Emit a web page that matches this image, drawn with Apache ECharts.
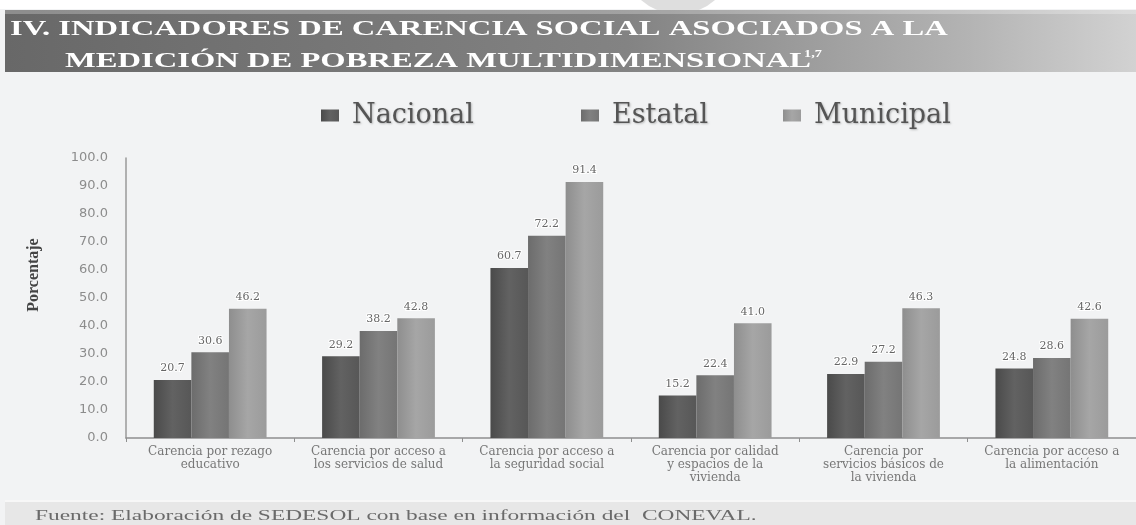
<!DOCTYPE html>
<html>
<head>
<meta charset="utf-8">
<script src="https://cdn.jsdelivr.net/npm/echarts@6/dist/echarts.min.js"></script>
<style>
html,body{margin:0;padding:0;background:#f2f3f4;}
#chart{width:1136px;height:525px;}
</style>
</head>
<body>
<div id="chart"></div>
<script>
const titleLine1 = 'IV. INDICADORES DE CARENCIA SOCIAL ASOCIADOS A LA';
const titleLine2 = 'MEDICIÓN DE POBREZA MULTIDIMENSIONAL';
const titleSup = '1,7';
const footnote = 'Fuente: Elaboración de SEDESOL con base en información del  CONEVAL.';
const yAxisName = 'Porcentaje';
const categories = [
  'Carencia por rezago\neducativo',
  'Carencia por acceso a\nlos servicios de salud',
  'Carencia por acceso a\nla seguridad social',
  'Carencia por calidad\ny espacios de la\nvivienda',
  'Carencia por\nservicios básicos de\nla vivienda',
  'Carencia por acceso a\nla alimentación'
];
const seriesNames = ['Nacional', 'Estatal', 'Municipal'];
const nacional = [20.7, 29.2, 60.7, 15.2, 22.9, 24.8];
const estatal = [30.6, 38.2, 72.2, 22.4, 27.2, 28.6];
const municipal = [46.2, 42.8, 91.4, 41.0, 46.3, 42.6];
const yTicks = {min: 0, max: 100, interval: 10};

function grad(a, b, c) {
  return new echarts.graphic.LinearGradient(0, 0, 1, 0, [
    {offset: 0, color: a}, {offset: 0.5, color: b}, {offset: 1, color: c}
  ]);
}
const fills = [
  grad('#4a4a4a', '#626262', '#575757'),
  grad('#6c6c6c', '#818181', '#757575'),
  grad('#8e8e8e', '#a6a6a6', '#9b9b9b')
];
const legendLeft = [316, 576, 778];
const values = [nacional, estatal, municipal];

const chart = echarts.init(document.getElementById('chart'), null, {renderer: 'canvas'});
const titleStyle = {
  fontFamily: 'Liberation Serif', fontWeight: 'bold', fontSize: 20,
  fill: '#ffffff', shadowColor: 'rgba(40,40,40,0.9)', shadowBlur: 3, shadowOffsetX: 1, shadowOffsetY: 1,
  verticalAlign: 'middle', x: 0, y: 0
};
const option = {
  backgroundColor: '#f2f3f4',
  animation: false,
  legend: seriesNames.map((n, i) => ({
    data: [n],
    left: legendLeft[i],
    top: 97,
    itemWidth: 18,
    itemHeight: 12,
    icon: 'rect',
    textStyle: {
      fontFamily: 'DejaVu Serif',
      fontSize: 27,
      color: '#555',
      padding: [0, 0, 0, 8],
      textShadowColor: 'rgba(0,0,0,0.25)',
      textShadowBlur: 2,
      textShadowOffsetX: 1,
      textShadowOffsetY: 1
    }
  })),
  grid: {left: 126, top: 158, width: 1017, height: 280},
  xAxis: {
    type: 'category',
    data: categories,
    axisLine: {lineStyle: {color: '#8f8f8f', width: 1.5}},
    axisTick: {show: true, length: 4, lineStyle: {color: '#8f8f8f'}},
    axisLabel: {
      interval: 0,
      margin: 7,
      fontFamily: 'DejaVu Serif',
      fontSize: 12,
      lineHeight: 13,
      color: '#777'
    }
  },
  yAxis: {
    type: 'value',
    min: yTicks.min,
    max: yTicks.max,
    interval: yTicks.interval,
    name: yAxisName,
    nameLocation: 'middle',
    nameRotate: 90,
    nameGap: 84,
    nameTextStyle: {
      fontFamily: 'Liberation Serif',
      fontWeight: 'bold',
      fontSize: 16,
      color: '#444',
      padding: [0, 0, 0, 46]
    },
    axisLine: {show: true, lineStyle: {color: '#9a9a9a', width: 1.5}},
    axisTick: {show: false},
    splitLine: {show: false},
    axisLabel: {
      margin: 18,
      fontFamily: 'DejaVu Sans',
      fontSize: 13,
      color: '#8c8c8c',
      formatter: v => v.toFixed(1)
    }
  },
  series: seriesNames.map((n, i) => ({
    name: n,
    type: 'bar',
    data: values[i],
    barGap: '0%',
    barCategoryGap: '33%',
    itemStyle: {color: fills[i]},
    label: {
      show: true,
      position: 'top',
      distance: 6,
      fontFamily: 'DejaVu Serif',
      fontSize: 11,
      color: '#666',
      textBorderColor: '#fff',
      textBorderWidth: 2,
      formatter: p => p.value.toFixed(1)
    }
  })),
  graphic: [
    {type: 'rect', shape: {x: 0, y: 0, width: 1136, height: 9}, style: {fill: '#ffffff'}, z: 0},
    {type: 'circle', shape: {cx: 678, cy: -42, r: 56}, style: {fill: '#dedede'}, z: 1},
    {
      type: 'rect', shape: {x: 5, y: 10, width: 1131, height: 62},
      style: {fill: new echarts.graphic.LinearGradient(0, 0, 1, 0, [
        {offset: 0, color: '#686868'}, {offset: 0.55, color: '#838383'}, {offset: 0.85, color: '#b3b3b3'}, {offset: 1, color: '#d2d2d2'}
      ])}, z: 2
    },
    {type: 'rect', shape: {x: 5, y: 10, width: 1131, height: 4}, style: {fill: 'rgba(255,255,255,0.25)'}, z: 3},
    {type: 'text', x: 10, y: 30, scaleX: 1.63, z: 5, style: Object.assign({text: titleLine1}, titleStyle)},
    {type: 'text', x: 65, y: 62, scaleX: 1.63, z: 5, style: Object.assign({text: titleLine2}, titleStyle)},
    {
      type: 'text', x: 804, y: 54, scaleX: 1.3, z: 5,
      style: Object.assign({}, titleStyle, {text: titleSup, fontSize: 11, shadowBlur: 2})
    },
    {type: 'rect', shape: {x: 5, y: 500, width: 1131, height: 25}, style: {fill: '#e7e7e7'}, z: 0},
    {type: 'rect', shape: {x: 5, y: 500, width: 1131, height: 2}, style: {fill: '#f7f7f7'}, z: 0},
    {
      type: 'text', x: 35, y: 516, scaleX: 1.56, z: 5,
      style: {
        text: footnote, x: 0, y: 0, verticalAlign: 'middle',
        fontFamily: 'Liberation Serif', fontSize: 15,
        fill: '#6a6a6a'
      }
    }
  ]
};
chart.setOption(option);
</script>
</body>
</html>
